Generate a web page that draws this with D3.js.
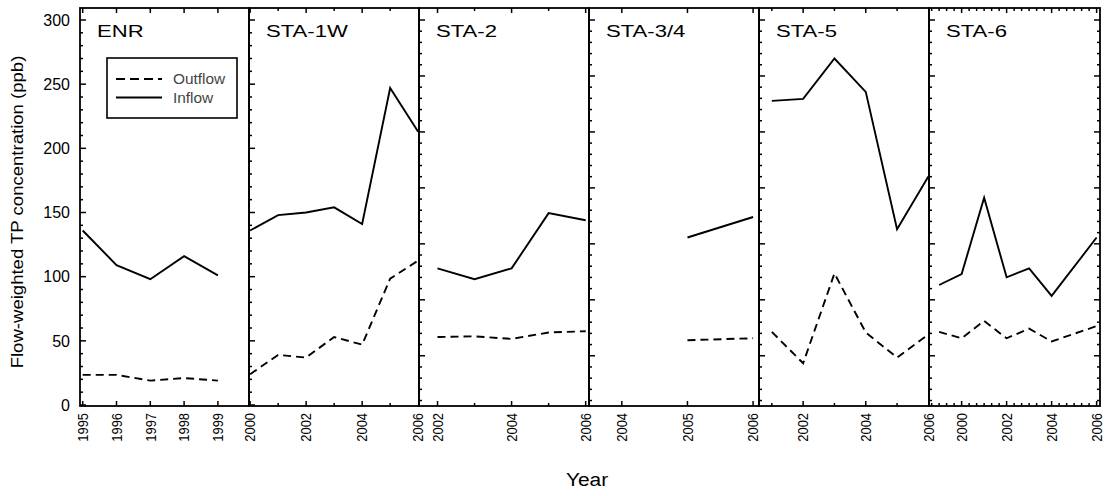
<!DOCTYPE html>
<html>
<head>
<meta charset="utf-8">
<script src="https://cdn.jsdelivr.net/npm/d3@7"></script>
<style>
  body { margin: 0; background: #fff; }
  svg { display: block; font-family: "Liberation Sans", Arial, sans-serif; }
</style>
</head>
<body>
<div id="chart"></div>
<script>
"use strict";

// panel names, left to right
var panelNames = ["ENR", "STA-1W", "STA-2", "STA-3/4", "STA-5", "STA-6"];

// years and flow-weighted TP (ppb)
var enrYears = [1995, 1996, 1997, 1998, 1999];
var enrInflow = [136, 109, 98, 116, 101];
var enrOutflow = [23.5, 23.5, 19, 21, 19];

var sta1wYears = [2000, 2001, 2002, 2003, 2004, 2005, 2006];
var sta1wInflow = [136, 148, 150, 154, 141, 247, 213];
var sta1wOutflow = [24, 39, 37, 53, 47, 98.5, 112.5];

var sta2Years = [2002, 2003, 2004, 2005, 2006];
var sta2Inflow = [106.5, 98, 106.5, 149.5, 144];
var sta2Outflow = [53, 53.5, 51.5, 56.5, 57.5];

var sta34Years = [2005, 2006];
var sta34Inflow = [130.5, 146.5];
var sta34Outflow = [50.5, 52];

var sta5Years = [2001, 2002, 2003, 2004, 2005, 2006];
var sta5Inflow = [237, 238.5, 270, 244, 137, 178];
var sta5Outflow = [57, 32.5, 102.5, 56.5, 37, 55];

var sta6Years = [1999, 2000, 2001, 2002, 2003, 2004, 2006];
var sta6Inflow = [93.5, 102, 161.5, 99.5, 106.5, 85, 130.5];
var sta6Outflow = [57, 52, 65.5, 52, 59.5, 49.5, 61.5];

// x-axis tick labels per panel
var enrTicks = [1995, 1996, 1997, 1998, 1999];
var sta1wTicks = [2000, 2002, 2004, 2006];
var sta2Ticks = [2002, 2004, 2006];
var sta34Ticks = [2004, 2005, 2006];
var sta5Ticks = [2002, 2004, 2006];
var sta6Ticks = [2000, 2002, 2004, 2006];

var yTicks = [0, 50, 100, 150, 200, 250, 300];
var seriesNames = ["Outflow", "Inflow"];

// layout
var width = 1106;
var height = 496;
var frameTop = 8;
var frameBottom = 406;
var edges = [80, 249, 419, 589, 759, 929, 1100];
var domains = [[1994.92, 1999.92], [1999.96, 2006.03], [2001.5, 2006.09],
               [2003.5, 2006.09], [2000.59, 2006.02], [1998.55, 2006.15]];
var minorStep = [1, 1, 1, 1, 1, 1 / 3];

var years = [enrYears, sta1wYears, sta2Years, sta34Years, sta5Years, sta6Years];
var inflows = [enrInflow, sta1wInflow, sta2Inflow, sta34Inflow, sta5Inflow, sta6Inflow];
var outflows = [enrOutflow, sta1wOutflow, sta2Outflow, sta34Outflow, sta5Outflow, sta6Outflow];
var tickLists = [enrTicks, sta1wTicks, sta2Ticks, sta34Ticks, sta5Ticks, sta6Ticks];

var y = d3.scaleLinear().domain([0, 300]).range([405, 20]);
// the frame ticks of the later panels run on a finer spacing in the original
var yFine = d3.scaleLinear().domain([0, 344]).range([20, 405]);

var svg = d3.select("#chart").append("svg")
  .attr("width", width).attr("height", height);

function drawYTicks(g, xPos, scale, maxV, dir) {
  d3.range(0, maxV + 1, 10).forEach(function (v) {
    var len = v % 50 === 0 ? 6 : 3;
    g.append("line")
      .attr("x1", xPos).attr("x2", xPos + dir * len)
      .attr("y1", scale(v)).attr("y2", scale(v))
      .attr("stroke", "#000").attr("stroke-width", 1.5);
  });
}

panelNames.forEach(function (name, i) {
  var x0 = edges[i], x1 = edges[i + 1];
  var x = d3.scaleLinear().domain(domains[i]).range([x0, x1]);
  var g = svg.append("g").attr("class", "panel");

  // x ticks top and bottom, major on labels, minor between
  var d = domains[i];
  var step = minorStep[i];
  var first = Math.ceil((d[0] - 1e-6) / step) * step;
  var ticks = [];
  for (var t = first; t <= d[1] + 1e-6; t += step) ticks.push(Math.round(t * 1000) / 1000);
  ticks.forEach(function (t) {
    var major = tickLists[i].some(function (m) { return Math.abs(m - t) < 1e-3; });
    var len = major ? 5 : 3;
    var px = x(t);
    if (px < x0 + 1 || px > x1 - 1) return;
    g.append("line").attr("x1", px).attr("x2", px).attr("y1", frameBottom).attr("y2", frameBottom - len)
      .attr("stroke", "#000").attr("stroke-width", 1.5);
    g.append("line").attr("x1", px).attr("x2", px).attr("y1", frameTop).attr("y2", frameTop + len)
      .attr("stroke", "#000").attr("stroke-width", 1.5);
  });

  // y ticks on the left edge of each panel
  if (i < 2) drawYTicks(g, x0, y, 300, 1);
  else drawYTicks(g, x0, yFine, 340, 1);
  if (i === panelNames.length - 1) drawYTicks(g, x1, yFine, 340, -1);

  // frame
  g.append("rect")
    .attr("x", x0).attr("y", frameTop)
    .attr("width", x1 - x0).attr("height", frameBottom - frameTop)
    .attr("fill", "none").attr("stroke", "#000").attr("stroke-width", 1.8);

  // x tick labels
  g.selectAll(".xlab").data(tickLists[i]).enter().append("text")
    .attr("class", "xlab")
    .attr("transform", function (v) { return "translate(" + (x(v) + 5.2) + ",413) rotate(-90) scale(0.86,1)"; })
    .attr("text-anchor", "end")
    .attr("font-size", 15)
    .text(function (v) { return v; });

  // series
  var pts = function (vals) {
    return years[i].map(function (yr, k) { return [yr, vals[k]]; });
  };
  var line = d3.line().x(function (p) { return x(p[0]); }).y(function (p) { return y(p[1]); });
  g.append("path").datum(pts(inflows[i]))
    .attr("d", line).attr("fill", "none")
    .attr("stroke", "#000").attr("stroke-width", 1.9);
  g.append("path").datum(pts(outflows[i]))
    .attr("d", line).attr("fill", "none")
    .attr("stroke", "#000").attr("stroke-width", 1.9)
    .attr("stroke-dasharray", "8,5");

  // panel title
  g.append("text")
    .attr("transform", "translate(" + (x0 + 17) + ",37) scale(1.3,1)")
    .attr("font-size", 17)
    .text(name);
});

// y axis labels
svg.selectAll(".ylab").data(yTicks).enter().append("text")
  .attr("class", "ylab")
  .attr("x", 70).attr("y", function (v) { return y(v); })
  .attr("dy", "0.36em")
  .attr("text-anchor", "end")
  .attr("font-size", 16)
  .text(function (v) { return v; });

svg.append("text")
  .attr("transform", "translate(23,212) rotate(-90) scale(1.16,1)")
  .attr("text-anchor", "middle")
  .attr("font-size", 16)
  .text("Flow-weighted TP concentration (ppb)");

svg.append("text")
  .attr("transform", "translate(587,486) scale(1.1,1)")
  .attr("text-anchor", "middle")
  .attr("font-size", 19)
  .text("Year");

// legend
var legend = svg.append("g");
legend.append("rect")
  .attr("x", 107).attr("y", 58)
  .attr("width", 130).attr("height", 60)
  .attr("fill", "#fff").attr("stroke", "#000").attr("stroke-width", 1.6);
seriesNames.forEach(function (s, k) {
  var ly = 79 + k * 18.5;
  legend.append("line")
    .attr("x1", 116).attr("x2", 162).attr("y1", ly).attr("y2", ly)
    .attr("stroke", "#000").attr("stroke-width", 1.9)
    .attr("stroke-dasharray", s === "Outflow" ? "9,5" : null);
  legend.append("text")
    .attr("transform", "translate(173," + (ly + 5) + ") scale(1.1,1)")
    .attr("font-size", 14).attr("fill", "#444")
    .text(s);
});
</script>
</body>
</html>
